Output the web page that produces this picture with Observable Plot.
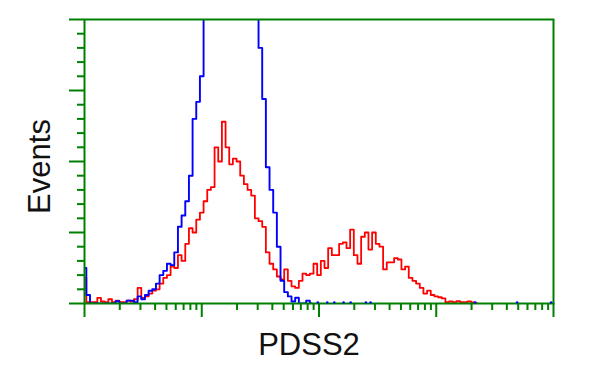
<!DOCTYPE html>
<html>
<head>
<meta charset="utf-8">
<script src="https://cdn.jsdelivr.net/npm/d3@7"></script>
<script src="https://cdn.jsdelivr.net/npm/@observablehq/plot@0.6"></script>
<style>
  html, body { margin: 0; padding: 0; background: #fff; }
  svg { display: block; }
</style>
</head>
<body>
<div id="chart"></div>
<script>
// Histogram bins: 32 bins per decade, 4 decades (log fluorescence)
const binsPerDecade = 32;
const redCounts = [9, 0.5, 0.5, 0.5, 2, 0.7, 0.5, 1.5, 0.5, 1,
  0.5, 0.5, 1, 0.7, 1.5, 5.5, 2, 2.5, 3.5, 4.5,
  5, 7, 9, 10, 13, 12.5, 17, 15, 21, 26.5,
  25, 29.5, 32, 36, 40, 41, 55, 50, 64, 55,
  49, 51, 50, 45, 42, 40, 38, 30, 29, 27,
  18, 14, 12, 9.5, 8.5, 12, 8, 6, 5.5, 8,
  10.5, 10, 10.5, 14, 10, 15, 12.5, 19.5, 17, 17,
  21, 21.5, 19.5, 26, 17, 14, 23.5, 25, 19, 25,
  21, 20, 12, 14.5, 14.5, 16, 15.5, 12, 13, 9,
  8, 7, 5.5, 3.5, 4.5, 3, 2.5, 2.2, 1.8, 0.5,
  0.7, 0.5, 0.8, 0.5, 0.5, 0.7, 0.4, 0.3];
const blueCounts = [12.5, 3, 0, 0, 0, 0, 0, 0, 0, 0.8,
  0, 0, 1, 1, 0.5, 2.5, 1.5, 3, 4.5, 5,
  7, 10, 11.5, 14, 13.5, 18, 27, 31, 36, 45,
  65, 71, 80, 130, 130, 130, 130, 130, 130, 130,
  130, 130, 130, 130, 130, 130, 130, 130, 90, 72,
  48, 40, 32, 20, 8, 4, 2.5, 0.7, 2, 0,
  0, 1, 0];
// isolated single events of the blue sample (positions in decades)
const blueSparse = [1.99, 2.07, 2.13, 2.21, 2.27, 2.40, 2.44, 3.33, 3.69, 3.98];

const yMajor = [0, 25, 50, 75, 100];
const yMinor = d3.range(0, 101, 5).filter(v => v % 25 !== 0);
const xMajor = [0, 1, 2, 3, 4];
const xMinor = [];
for (let d = 0; d < 4; d++) for (let k = 2; k <= 9; k++) xMinor.push(d + Math.log10(k));

const red = redCounts.map((c, i) => ({x: i / binsPerDecade, y: c}));
const blue = blueCounts.map((c, i) => ({x: i / binsPerDecade, y: c}));

const green = "#008000";
const font = "'Liberation Sans', Arial, sans-serif";

const chart = Plot.plot({
  width: 600,
  height: 375,
  marginLeft: 84,
  marginRight: 47,
  marginTop: 19,
  marginBottom: 72,
  style: {background: "#fff", fontFamily: font},
  x: {type: "linear", domain: [0, 4], axis: null},
  y: {domain: [0, 100], axis: null},
  marks: [
    Plot.line(red, {x: "x", y: "y", curve: "step", stroke: "#ff0000", strokeWidth: 1.8, clip: true}),
    Plot.line(blue, {x: "x", y: "y", curve: "step", stroke: "#0000ff", strokeWidth: 1.9, clip: true}),
    Plot.frame({stroke: green, strokeWidth: 2}),
    Plot.axisY(yMajor, {anchor: "left", tickSize: 15, tickFormat: () => "", stroke: green, strokeWidth: 2, label: null}),
    Plot.axisY(yMinor, {anchor: "left", tickSize: 7, tickFormat: () => "", stroke: green, strokeWidth: 2, label: null}),
    Plot.axisX(xMajor, {anchor: "bottom", tickSize: 14, tickFormat: () => "", stroke: green, strokeWidth: 2, label: null}),
    Plot.axisX(xMinor, {anchor: "bottom", tickSize: 7, tickFormat: () => "", stroke: green, strokeWidth: 2, label: null}),
    Plot.dot(blueSparse, {x: d => d, y: 0.4, r: 1.2, fill: "#0000ff", stroke: null}),
    Plot.text(["Events"], {frameAnchor: "left", dx: -44, dy: 5, rotate: -90, fontSize: 31, fill: "#111", textAnchor: "middle", lineAnchor: "middle", fontFamily: font}),
    Plot.text(["PDSS2"], {frameAnchor: "bottom", dx: -10, dy: 42, fontSize: 31, fill: "#111", textAnchor: "middle", lineAnchor: "middle", fontFamily: font})
  ]
});
document.getElementById("chart").appendChild(chart);
</script>
</body>
</html>
